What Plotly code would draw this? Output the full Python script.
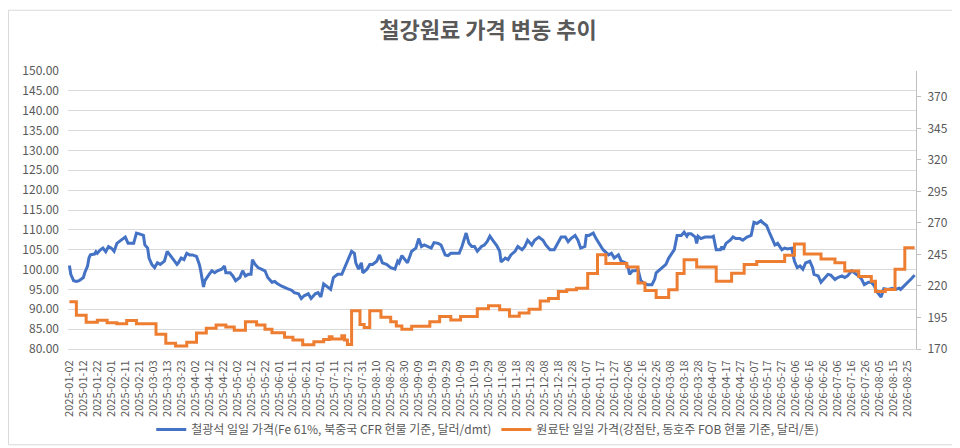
import plotly.graph_objects as go

# ---- data ----
iron_name = "철광석 일일 가격(Fe 61%, 북중국 CFR 현물 기준, 달러/dmt)"
coal_name = "원료탄 일일 가격(강점탄, 동호주 FOB 현물 기준, 달러/톤)"

iron_dates = [
    "2025-01-02", "2025-01-03", "2025-01-05", "2025-01-07", "2025-01-09", "2025-01-12", "2025-01-13",
    "2025-01-15", "2025-01-16", "2025-01-17", "2025-01-20", "2025-01-21", "2025-01-22", "2025-01-24",
    "2025-01-26", "2025-01-28", "2025-01-30", "2025-02-01", "2025-02-03", "2025-02-05", "2025-02-08",
    "2025-02-11", "2025-02-12", "2025-02-13", "2025-02-17", "2025-02-19", "2025-02-21", "2025-02-24",
    "2025-02-25", "2025-02-27", "2025-02-28", "2025-03-02", "2025-03-04", "2025-03-06", "2025-03-08",
    "2025-03-10", "2025-03-11", "2025-03-13", "2025-03-15", "2025-03-16", "2025-03-18", "2025-03-20",
    "2025-03-21", "2025-03-23", "2025-03-25", "2025-03-27", "2025-03-29", "2025-03-31", "2025-04-03",
    "2025-04-05", "2025-04-06", "2025-04-08", "2025-04-09", "2025-04-11", "2025-04-12", "2025-04-14",
    "2025-04-16", "2025-04-18", "2025-04-21", "2025-04-23", "2025-04-24", "2025-04-27", "2025-04-29",
    "2025-05-01", "2025-05-04", "2025-05-06", "2025-05-08", "2025-05-10", "2025-05-12", "2025-05-13",
    "2025-05-15", "2025-05-17", "2025-05-20", "2025-05-22", "2025-05-24", "2025-05-27", "2025-05-29",
    "2025-05-31", "2025-06-03", "2025-06-05", "2025-06-07", "2025-06-10", "2025-06-12", "2025-06-15",
    "2025-06-17", "2025-06-19", "2025-06-22", "2025-06-24", "2025-06-27", "2025-06-29", "2025-07-01",
    "2025-07-03", "2025-07-06", "2025-07-08", "2025-07-10", "2025-07-12", "2025-07-13", "2025-07-16",
    "2025-07-18", "2025-07-20", "2025-07-23", "2025-07-25", "2025-07-26", "2025-07-28", "2025-07-30",
    "2025-07-31", "2025-08-03", "2025-08-05", "2025-08-07", "2025-08-10", "2025-08-12", "2025-08-14",
    "2025-08-17", "2025-08-20", "2025-08-23", "2025-08-25", "2025-08-26", "2025-08-28", "2025-08-30",
    "2025-09-01", "2025-09-04", "2025-09-07", "2025-09-09", "2025-09-11", "2025-09-13", "2025-09-16",
    "2025-09-18", "2025-09-20", "2025-09-23", "2025-09-25", "2025-09-28", "2025-09-30", "2025-10-02",
    "2025-10-06", "2025-10-08", "2025-10-10", "2025-10-12", "2025-10-13", "2025-10-15", "2025-10-17",
    "2025-10-19", "2025-10-21", "2025-10-24", "2025-10-26", "2025-10-28", "2025-10-30", "2025-11-01",
    "2025-11-04", "2025-11-06", "2025-11-07", "2025-11-10", "2025-11-12", "2025-11-14", "2025-11-17",
    "2025-11-19", "2025-11-22", "2025-11-24", "2025-11-26", "2025-11-29", "2025-12-01", "2025-12-04",
    "2025-12-07", "2025-12-09", "2025-12-12", "2025-12-15", "2025-12-18", "2025-12-20", "2025-12-23",
    "2025-12-25", "2025-12-27", "2025-12-30", "2026-01-01", "2026-01-03", "2026-01-06", "2026-01-07",
    "2026-01-09", "2026-01-12", "2026-01-14", "2026-01-17", "2026-01-19", "2026-01-23", "2026-01-25",
    "2026-01-27", "2026-01-30", "2026-02-01", "2026-02-04", "2026-02-06", "2026-02-07", "2026-02-09",
    "2026-02-11", "2026-02-13", "2026-02-15", "2026-02-18", "2026-02-20", "2026-02-23", "2026-02-25",
    "2026-02-26", "2026-03-01", "2026-03-03", "2026-03-05", "2026-03-07", "2026-03-09", "2026-03-11",
    "2026-03-13", "2026-03-16", "2026-03-18", "2026-03-20", "2026-03-21", "2026-03-23", "2026-03-26",
    "2026-03-27", "2026-03-28", "2026-03-30", "2026-04-02", "2026-04-04", "2026-04-07", "2026-04-08",
    "2026-04-10", "2026-04-13", "2026-04-14", "2026-04-15", "2026-04-17", "2026-04-20", "2026-04-22",
    "2026-04-24", "2026-04-27", "2026-04-29", "2026-05-02", "2026-05-05", "2026-05-07", "2026-05-09",
    "2026-05-12", "2026-05-13", "2026-05-16", "2026-05-18", "2026-05-19", "2026-05-22", "2026-05-24",
    "2026-05-27", "2026-05-29", "2026-05-31", "2026-06-03", "2026-06-05", "2026-06-07", "2026-06-09",
    "2026-06-11", "2026-06-13", "2026-06-16", "2026-06-18", "2026-06-19", "2026-06-22", "2026-06-24",
    "2026-06-26", "2026-06-29", "2026-07-01", "2026-07-04", "2026-07-06", "2026-07-09", "2026-07-11",
    "2026-07-13", "2026-07-16", "2026-07-18", "2026-07-21", "2026-07-23", "2026-07-25", "2026-07-28",
    "2026-07-30", "2026-08-01", "2026-08-03", "2026-08-06", "2026-08-08", "2026-08-11", "2026-08-14",
    "2026-08-16", "2026-08-19", "2026-08-20", "2026-08-23", "2026-08-25", "2026-08-28", "2026-08-30",
]
iron_values = [
    101.0, 98.8, 97.2, 97.0, 97.2, 98.0, 99.2,
    100.9, 102.9, 103.7, 103.9, 104.5, 104.1, 104.9,
    105.4, 104.5, 105.8, 105.4, 104.6, 106.6, 107.4,
    108.2, 107.4, 106.6, 106.6, 109.2, 109.0, 108.6,
    106.2, 105.4, 102.9, 101.3, 100.5, 101.7, 101.3,
    101.7, 102.1, 104.6, 103.7, 103.3, 102.1, 101.3,
    101.7, 102.9, 102.5, 104.1, 103.7, 103.7, 103.3,
    101.3, 99.7, 95.6, 97.2, 98.4, 98.8, 99.7,
    99.2, 99.7, 100.1, 100.9, 99.2, 99.2, 98.4,
    97.2, 98.0, 99.7, 98.4, 98.8, 98.8, 102.5,
    101.3, 100.5, 100.1, 99.7, 98.0, 96.8, 97.0,
    96.4, 95.8, 95.6, 95.2, 94.8, 94.2, 93.9,
    92.7, 93.4, 93.9, 92.7, 93.9, 94.2, 93.1,
    96.4, 95.6, 95.0, 98.0, 98.4, 98.8, 98.8,
    100.5, 102.1, 104.6, 104.1, 101.7, 100.1, 101.7,
    99.2, 100.1, 101.3, 101.3, 102.1, 103.7, 101.7,
    101.3, 100.5, 100.1, 102.1, 101.7, 103.5, 102.5,
    101.7, 104.6, 105.4, 107.8, 105.8, 106.2, 105.8,
    105.4, 106.8, 106.6, 106.2, 103.7, 103.5, 104.1,
    104.1, 104.1, 105.8, 108.2, 109.2, 106.6, 105.8,
    105.8, 104.6, 105.8, 106.2, 107.0, 108.4, 107.4,
    106.0, 104.6, 101.9, 102.9, 102.5, 103.7, 104.6,
    105.8, 105.0, 105.8, 107.4, 106.2, 107.4, 108.2,
    107.4, 106.2, 105.0, 105.0, 107.0, 108.2, 108.2,
    107.0, 107.8, 108.6, 107.4, 105.4, 105.8, 108.6,
    108.6, 109.2, 107.8, 106.2, 105.0, 103.7, 104.1,
    102.9, 103.7, 102.1, 101.7, 100.5, 98.8, 99.7,
    99.7, 100.1, 97.2, 96.4, 96.2, 96.2, 97.6,
    99.2, 100.1, 100.5, 101.3, 102.9, 104.1, 105.0,
    108.6, 108.6, 109.4, 108.4, 109.0, 109.0, 108.2,
    106.6, 108.4, 107.8, 108.2, 108.2, 108.2, 108.4,
    105.0, 105.0, 105.8, 105.0, 106.6, 107.4, 108.2,
    107.8, 107.8, 107.4, 108.2, 108.6, 111.9, 111.6,
    112.3, 111.9, 111.1, 109.4, 108.6, 106.2, 106.6,
    105.0, 105.4, 105.2, 105.4, 102.1, 100.5, 100.9,
    100.1, 101.7, 102.1, 100.5, 98.8, 98.4, 96.8,
    97.6, 98.8, 98.6, 97.5, 98.0, 98.4, 98.0,
    98.4, 99.7, 99.2, 98.4, 97.6, 96.2, 96.8,
    96.8, 96.0, 94.4, 93.1, 95.2, 95.0, 95.3,
    95.0, 95.3, 95.0, 96.0, 96.8, 97.8, 98.6,
]

coal_dates = [
    "2025-01-02", "2025-01-07", "2025-01-14", "2025-01-22", "2025-01-29", "2025-02-05", "2025-02-12",
    "2025-02-19", "2025-03-05", "2025-03-12", "2025-03-19", "2025-03-27", "2025-04-03", "2025-04-10",
    "2025-04-17", "2025-04-24", "2025-04-30", "2025-05-08", "2025-05-16", "2025-05-22", "2025-05-27",
    "2025-06-05", "2025-06-11", "2025-06-18", "2025-06-26", "2025-07-03", "2025-07-07", "2025-07-09",
    "2025-07-16", "2025-07-18", "2025-07-20", "2025-07-23", "2025-07-29", "2025-08-01", "2025-08-05",
    "2025-08-13", "2025-08-20", "2025-08-24", "2025-08-28", "2025-09-04", "2025-09-17", "2025-09-24",
    "2025-10-02", "2025-10-09", "2025-10-21", "2025-10-29", "2025-11-06", "2025-11-13", "2025-11-20",
    "2025-11-27", "2025-12-05", "2025-12-11", "2025-12-18", "2025-12-24", "2025-12-31", "2026-01-08",
    "2026-01-15", "2026-01-21", "2026-02-05", "2026-02-13", "2026-02-18", "2026-02-26", "2026-03-07",
    "2026-03-13", "2026-03-18", "2026-03-27", "2026-04-10", "2026-04-21", "2026-04-30", "2026-05-09",
    "2026-05-29", "2026-06-05", "2026-06-12", "2026-06-24", "2026-07-04", "2026-07-11", "2026-07-21",
    "2026-07-30", "2026-08-02", "2026-08-09", "2026-08-16", "2026-08-23", "2026-08-30",
]
coal_values = [
    207.5, 196.7, 191.3, 192.9, 190.8, 190.0, 192.6,
    190.0, 181.8, 174.6, 172.3, 175.4, 182.6, 186.4,
    189.0, 187.5, 184.9, 191.6, 189.0, 185.7, 182.9,
    179.3, 177.2, 173.3, 175.7, 177.5, 179.8, 178.0,
    180.5, 177.2, 173.6, 200.3, 189.5, 187.0, 200.3,
    195.2, 191.6, 188.2, 185.7, 188.0, 191.6, 195.7,
    193.1, 195.7, 201.9, 204.4, 201.1, 196.0, 198.5,
    201.6, 208.0, 210.1, 215.7, 217.0, 218.3, 229.9,
    244.8, 237.8, 235.0, 222.4, 216.5, 210.9, 217.0,
    229.9, 240.9, 235.0, 223.7, 230.1, 237.1, 239.4,
    244.3, 253.3, 245.3, 241.4, 238.4, 231.9, 227.6,
    223.7, 215.7, 217.3, 233.2, 250.4, 250.4,
]

title_text = "철강원료 가격 변동 추이"
x_range = ["2025-01-01", "2026-08-31"]
x_tick0 = "2025-01-02"
left_range = [80, 150]
right_range = [170, 390.6]

FONT = "Noto Sans CJK KR, Noto Sans, sans-serif"
TXT = "#595959"

fig = go.Figure()
fig.add_trace(go.Scatter(
    x=iron_dates, y=iron_values, name=iron_name, mode="lines",
    line=dict(color="#4472C4", width=3),
))
fig.add_trace(go.Scatter(
    x=coal_dates, y=coal_values, name=coal_name, mode="lines", yaxis="y2",
    line=dict(color="#ED7D31", width=3, shape="hv"),
))

fig.update_layout(
    width=960, height=448,
    margin=dict(l=60, r=52, t=63, b=99, pad=0),
    paper_bgcolor="white", plot_bgcolor="white",
    font=dict(family=FONT, color=TXT, size=12),
    title=dict(text="<b>" + title_text + "</b>", x=0.5, xanchor="center",
               y=1 - 22 / 448, yanchor="middle", yref="container",
               font=dict(size=22, color=TXT, family=FONT)),
    xaxis=dict(
        type="date", range=x_range, tick0=x_tick0, dtick=10 * 86400000,
        tickformat="%Y-%m-%d", tickangle=-90, tickfont=dict(size=11, color=TXT),
        showgrid=False, showline=True, linecolor="#d9d9d9", linewidth=1,
        ticks="", ticklabelstandoff=6, zeroline=False,
    ),
    yaxis=dict(
        range=left_range, tick0=80, dtick=5, tickformat=".2f",
        gridcolor="#d9d9d9", gridwidth=1, showline=False, zeroline=False,
        tickfont=dict(size=12, color=TXT), ticklabelstandoff=8,
    ),
    yaxis2=dict(
        range=right_range, tick0=170, dtick=25, overlaying="y", side="right",
        showgrid=False, zeroline=False, showline=True, linecolor="#bfbfbf", linewidth=1,
        ticks="outside", ticklen=4, tickcolor="#bfbfbf",
        tickfont=dict(size=12, color=TXT), ticklabelstandoff=4,
    ),
    legend=dict(
        orientation="h", x=0.495, xanchor="center", y=-0.29, yanchor="middle",
        font=dict(size=12, color=TXT, family=FONT), itemwidth=30,
        bgcolor="rgba(0,0,0,0)",
    ),
    showlegend=True,
    shapes=[dict(
        type="rect", xref="paper", yref="paper",
        x0=-0.0702, x1=1.0607, y0=-0.3444, y1=1.2185,
        line=dict(color="#d9d9d9", width=1), fillcolor="rgba(0,0,0,0)",
    )],
)

fig.write_html("out.html")
